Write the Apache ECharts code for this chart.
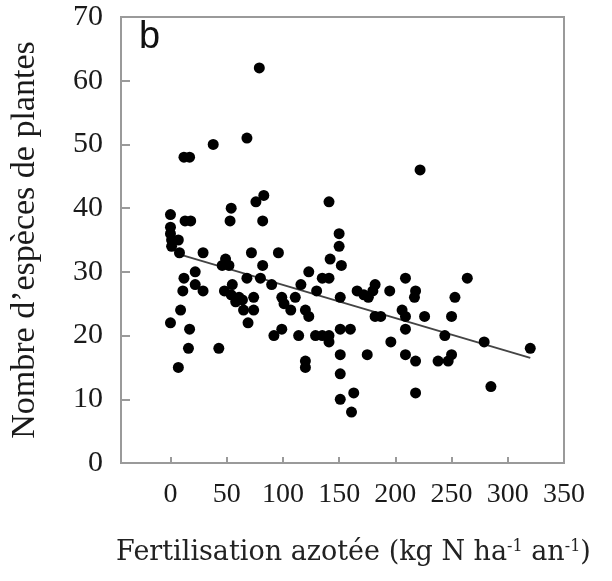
<!DOCTYPE html>
<html>
<head>
<meta charset="utf-8">
<script src="https://cdn.jsdelivr.net/npm/echarts@6/dist/echarts.min.js"></script>
<style>html,body{margin:0;padding:0;background:#fff}#c{width:612px;height:581px}</style>
</head>
<body>
<div id="c"></div>
<script>
// Fertilisation azotée (kg N/ha/an) and number of plant species
var nitrogen = [0,0,0,1,1,7,8,0,7,9,12,11,12,17,13,18,16,17,22,22,29,29,38,43,46,49,52,48,55,54,61,58,64,54,53,68,79,76,83,82,72,82,68,80,74,65,74,69,90,96,99,101,107,92,99,111,114,116,120,123,123,120,120,130,135,141,129,135,141,141,141,150,150,142,152,151,151,160,151,151,151,163,161,166,172,176,182,180,182,187,175,195,196,209,218,217,206,209,209,209,218,218,222,226,244,238,247,250,250,253,264,279,285,320];
var species  = [39,37,36,35,34,35,33,22,15,24,29,27,48,48,38,38,18,21,30,28,27,33,50,18,31,32,31,27,28,26.4,26,25.3,25.6,40,38,51,62,41,42,38,33,31,29,29,26,24,24,22,28,33,26,25,24,20,21,26,20,28,24,23,30,16,15,27,29,29,20,20,20,19,41,36,34,32,31,26,21,21,17,14,10,11,8,27,26.4,26,28,27,23,23,17,27,19,29,27,26,24,23,21,17,16,11,46,23,20,16,16,17,23,26,29,19,12,18];
var trendX = [5, 320];
var trendY = [32.9, 16.5];
var xTicks = [0,50,100,150,200,250,300,350];
var yTicks = [0,10,20,30,40,50,60,70];

var pts = nitrogen.map(function(v,i){return [v, species[i]];});
var line = trendX.map(function(v,i){return [v, trendY[i]];});

var chart = echarts.init(document.getElementById('c'), null, {renderer:'canvas'});
chart.setOption({
  animation:false,
  backgroundColor:'#fff',
  grid:{left:121,right:48,top:17,bottom:118,show:true,borderColor:'#9a9a9a',borderWidth:2,backgroundColor:'transparent'},
  xAxis:{
    type:'value',min:-44,max:350,
    splitLine:{show:false},
    axisLine:{show:true,onZero:false,lineStyle:{color:'#9a9a9a',width:2}},
    axisTick:{show:true,inside:true,length:6,customValues:xTicks.slice(0,7),lineStyle:{color:'#9a9a9a',width:2}},
    axisLabel:{customValues:xTicks,margin:18,color:'#1a1a1a',fontFamily:'Liberation Serif',fontSize:28},
    name:'Fertilisation azotée (kg N ha{s|-1} an{s|-1})',
    nameLocation:'middle',nameGap:76,
    nameTextStyle:{color:'#222',fontFamily:'DejaVu Serif',fontSize:27,padding:[0,0,0,22],
      rich:{s:{fontFamily:'DejaVu Serif',fontSize:16,verticalAlign:'top',padding:[0,0,12,0],color:'#222'}}}
  },
  yAxis:{
    type:'value',min:0,max:70,interval:10,
    splitLine:{show:false},
    axisLine:{show:true,onZero:false,lineStyle:{color:'#9a9a9a',width:2}},
    axisTick:{show:true,inside:true,length:9,lineStyle:{color:'#9a9a9a',width:2}},
    axisLabel:{margin:18,color:'#1a1a1a',fontFamily:'Liberation Serif',fontSize:30},
    name:'Nombre d’espèces de plantes',
    nameLocation:'middle',nameGap:79,
    nameTextStyle:{color:'#1a1a1a',fontFamily:'Liberation Serif',fontSize:34}
  },
  graphic:[{type:'text',left:139,top:19,style:{text:'b',font:'38px "Liberation Sans"',fill:'#111'}}],
  series:[
    {type:'scatter',data:pts,symbolSize:11,itemStyle:{color:'#000',opacity:1},z:3},
    {type:'line',data:line,symbol:'none',lineStyle:{color:'#444',width:2},z:2}
  ]
});
</script>
</body>
</html>
